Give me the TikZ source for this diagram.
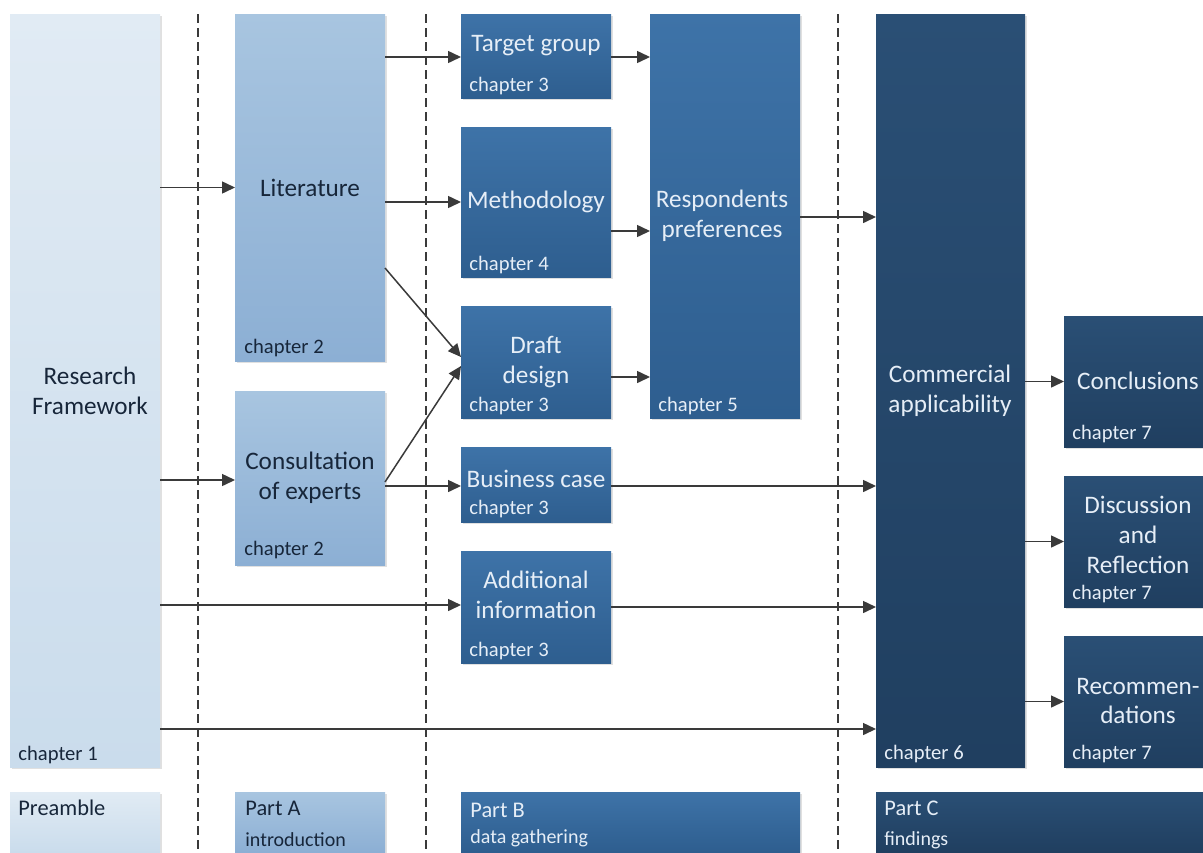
\documentclass[tikz,border=0pt]{standalone}
\usepackage{fontspec}
\setmainfont{Carlito}
\usetikzlibrary{arrows.meta,shadows,calc}
\definecolor{preT}{HTML}{E1EBF4}
\definecolor{preB}{HTML}{CADCEC}
\definecolor{aT}{HTML}{A8C5E0}
\definecolor{aB}{HTML}{8CAFD4}
\definecolor{bT}{HTML}{3E73A8}
\definecolor{bB}{HTML}{2E5E8F}
\definecolor{cT}{HTML}{2A4F75}
\definecolor{cB}{HTML}{203F60}
\definecolor{darktxt}{HTML}{17263A}
\definecolor{lighttxt}{HTML}{E6EEF7}
\definecolor{linec}{HTML}{3A3A3A}
\newcommand\mybox[6]{\node[#6, anchor=north west, minimum width={(#4-#2)*0.5pt}, minimum height={(#5-#3)*0.5pt}] (#1) at (#2,#3) {};}
\tikzset{
  basebox/.style={inner sep=0pt, outer sep=0pt, draw=none,
    drop shadow={shadow xshift=1.2pt, shadow yshift=-1.2pt, opacity=0.12, fill=black}},
  boxpre/.style={basebox, top color=preT, bottom color=preB},
  boxA/.style={basebox, top color=aT, bottom color=aB},
  boxB/.style={basebox, top color=bT, bottom color=bB},
  boxC/.style={basebox, top color=cT, bottom color=cB},
  maindark/.style={font=\fontsize{12.6}{14.8}\selectfont, text=darktxt, align=center, inner sep=0pt},
  mainlight/.style={font=\fontsize{12.6}{14.8}\selectfont, text=lighttxt, align=center, inner sep=0pt},
  chapdark/.style={font=\fontsize{10.3}{11}\selectfont, text=darktxt, anchor=west, inner sep=0pt},
  chaplight/.style={font=\fontsize{10.3}{11}\selectfont, text=lighttxt, anchor=west, inner sep=0pt},
  partdark/.style={font=\fontsize{11.2}{13}\selectfont, text=darktxt, anchor=west, inner sep=0pt},
  partlight/.style={font=\fontsize{11.2}{13}\selectfont, text=lighttxt, anchor=west, inner sep=0pt},
  subdark/.style={font=\fontsize{10}{11}\selectfont, text=darktxt, anchor=west, inner sep=0pt},
  sublight/.style={font=\fontsize{10}{11}\selectfont, text=lighttxt, anchor=west, inner sep=0pt},
  arr/.style={draw=linec, line width=0.75pt, -{Triangle[length=6.5pt,width=6pt]}},
  sep/.style={draw=linec, line width=0.55pt, dash pattern=on 4.5pt off 2.5pt},
}
\begin{document}
\begin{tikzpicture}[x=0.5pt,y=-0.5pt]
\fill[white] (0,0) rectangle (1203,852);
\useasboundingbox (0,0) rectangle (1203,852);
% separators
\coordinate (s1t) at (198,14); \coordinate (s1b) at (198,852);
\coordinate (s2t) at (426,14); \coordinate (s2b) at (426,852);
\coordinate (s3t) at (838,14); \coordinate (s3b) at (838,852);
\draw[sep] (s1t) -- (s1b);
\draw[sep] (s2t) -- (s2b);
\draw[sep] (s3t) -- (s3b);
% boxes
\mybox{rf}{10}{14}{160}{767}{boxpre}
\mybox{lit}{235}{14}{385}{361}{boxA}
\mybox{cons}{235}{391}{385}{565}{boxA}
\mybox{tg}{461}{14}{611}{98}{boxB}
\mybox{meth}{461}{127}{611}{277}{boxB}
\mybox{dd}{461}{306}{611}{418}{boxB}
\mybox{bc}{461}{447}{611}{522}{boxB}
\mybox{add}{461}{551}{611}{663}{boxB}
\mybox{resp}{650}{14}{800}{418}{boxB}
\mybox{com}{876}{14}{1025}{767}{boxC}
\mybox{conc}{1064}{316}{1203}{447}{boxC}
\mybox{disc}{1064}{476}{1203}{607}{boxC}
\mybox{rec}{1064}{636}{1203}{767}{boxC}
\mybox{pre}{10}{792}{160}{852}{boxpre}
\mybox{pa}{235}{792}{385}{852}{boxA}
\mybox{pb}{461}{792}{800}{852}{boxB}
\mybox{pc}{876}{792}{1203}{852}{boxC}
% main labels
\node[maindark] (trf) at (90,391) {Research\\Framework};
\node[maindark] (tlit) at (310,188) {Literature};
\node[maindark] (tcons) at (310,478) {Consultation\\of experts};
\node[mainlight] (ttg) at (536,46) {Target group};
\node[mainlight] (tmeth) at (536,202) {Methodology};
\node[mainlight] (tdd) at (536,362) {Draft\\design};
\node[mainlight] (tbc) at (536,479) {Business case};
\node[mainlight] (tadd) at (536,595) {Additional\\information};
\node[mainlight] (tresp) at (722,216) {Respondents\\preferences};
\node[mainlight] (tcom) at (950,391) {Commercial\\applicability};
\node[mainlight] (tconc) at (1138,381) {Conclusions};
\node[mainlight] (tdisc) at (1138,535) {Discussion\\and\\Reflection};
\node[mainlight] (trec) at (1138,701) {Recommen-\\dations};
% chapter labels
\node[chapdark] (c1) at (18,755) {chapter 1};
\node[chapdark] (c2a) at (244,348) {chapter 2};
\node[chapdark] (c2b) at (244,550) {chapter 2};
\node[chaplight] (c3a) at (469,86) {chapter 3};
\node[chaplight] (c4) at (469,265) {chapter 4};
\node[chaplight] (c3b) at (469,406) {chapter 3};
\node[chaplight] (c3c) at (469,509) {chapter 3};
\node[chaplight] (c3d) at (469,651) {chapter 3};
\node[chaplight] (c5) at (658,406) {chapter 5};
\node[chaplight] (c6) at (884,754) {chapter 6};
\node[chaplight] (c7a) at (1072,434) {chapter 7};
\node[chaplight] (c7b) at (1072,594) {chapter 7};
\node[chaplight] (c7c) at (1072,754) {chapter 7};
% part labels
\node[partdark] (tpre) at (18,808) {Preamble};
\node[partdark] (tpa) at (245,808) {Part A};
\node[subdark] (spa) at (245,840) {introduction};
\node[partlight] (tpb) at (470,810) {Part B};
\node[sublight] (spb) at (470,838) {data gathering};
\node[partlight] (tpc) at (884,808) {Part C};
\node[sublight] (spc) at (884,840) {findings};
% connectors
\draw[arr] (rf.east |- lit.west) -- (lit.west);
\draw[arr] (rf.east |- 0,480) -- (cons.west |- 0,480);
\draw[arr] (rf.east |- 0,605) -- (add.west |- 0,605);
\draw[arr] (rf.east |- 0,729) -- (com.west |- 0,729);
\draw[arr] (lit.east |- 0,57) -- (tg.west |- 0,57);
\draw[arr] (lit.east |- meth.west) -- (meth.west);
\draw[arr] (lit.east |- 0,268) -- (dd.west |- 0,357);
\draw[arr] (cons.east |- 0,482) -- (dd.west |- 0,366);
\draw[arr] (cons.east |- 0,486) -- (bc.west |- 0,486);
\draw[arr] (tg.east |- 0,57) -- (resp.west |- 0,57);
\draw[arr] (meth.east |- 0,231) -- (resp.west |- 0,231);
\draw[arr] (dd.east |- 0,377) -- (resp.west |- 0,377);
\draw[arr] (resp.east |- 0,217) -- (com.west |- 0,217);
\draw[arr] (bc.east |- 0,486) -- (com.west |- 0,486);
\draw[arr] (add.east |- 0,607) -- (com.west |- 0,607);
\draw[arr] (com.east |- conc.west) -- (conc.west);
\draw[arr] (com.east |- disc.west) -- (disc.west);
\draw[arr] (com.east |- rec.west) -- (rec.west);
\end{tikzpicture}
\end{document}
